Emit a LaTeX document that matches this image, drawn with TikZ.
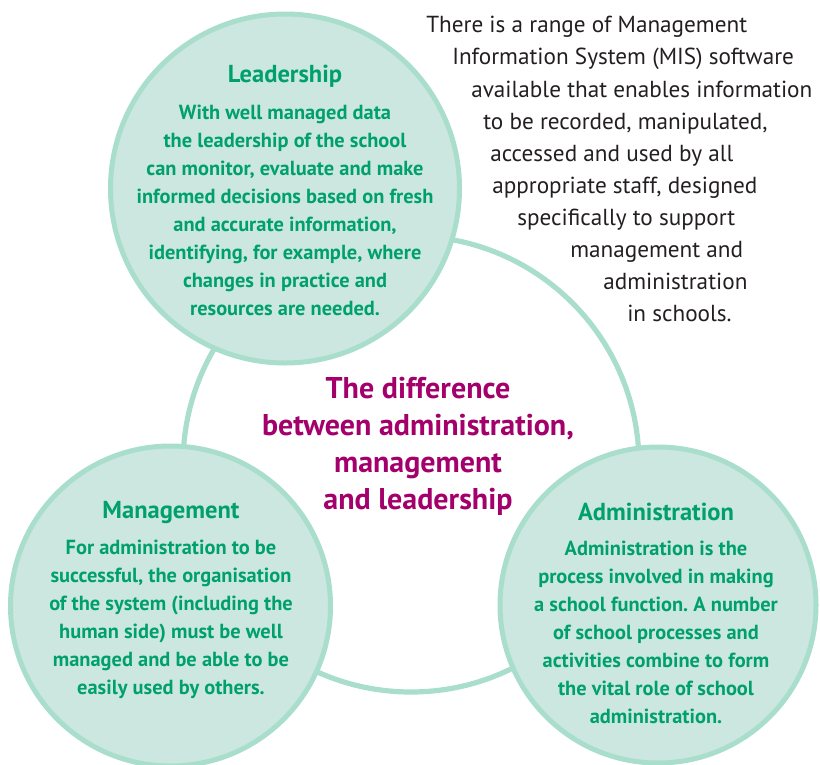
\documentclass[tikz,border=0pt]{standalone}
\usepackage{fontspec}
\setmainfont{PT Sans}
\frenchspacing
\definecolor{ringgreen}{HTML}{A9DDCC}
\definecolor{discfill}{HTML}{CCE7DF}
\definecolor{textgreen}{HTML}{00A06E}
\definecolor{plum}{HTML}{A3006B}
\definecolor{inkgrey}{HTML}{231F20}

\begin{document}
\begin{tikzpicture}[x=0.75pt,y=-0.75pt,
  disc/.style={circle,draw=ringgreen,fill=discfill,line width=3.75pt,inner sep=0pt},
  heading/.style={text=textgreen,font=\fontsize{18.4}{21}\selectfont\bfseries},
  body/.style={text=textgreen,align=center,font=\fontsize{15.3}{21}\selectfont\bfseries},
  blurb/.style={anchor=base west,inner sep=0pt,text=inkgrey,font=\fontsize{17.4}{24}\selectfont}]
   \useasboundingbox (0,0) rectangle (820,764);
   % the ring that joins the three discs
   \node (ring) at (411,464) [circle,draw=ringgreen,line width=3.9pt,minimum size=342pt] {};
   \node (lead) at (285,188.5) [disc,minimum size=261.75pt] {};
   \node (mgmt) at (170.5,606) [disc,minimum size=240pt] {};
   \node (admin) at (658,605) [disc,minimum size=237pt] {};
   % texts in the discs
   \node (leadhead) at (285,76) [heading] {Leadership};
   \node (leadbody) at (285,210) [body] {With well managed data\\the leadership of the school\\can monitor, evaluate and make\\informed decisions based on fresh\\and accurate information,\\identifying, for example, where\\changes in practice and\\resources are needed.};
   \node (mgmthead) at (171,513) [heading] {Management};
   \node (mgmtbody) at (171,619) [body] {For administration to be\\successful, the organisation\\of the system (including the\\human side) must be well\\managed and be able to be\\easily used by others.};
   \node (adminhead) at (656,512) [heading] {Administration};
   \node (adminbody) at (656,632) [body] {Administration is the\\process involved in making\\a school function. A number\\of school processes and\\activities combine to form\\the vital role of school\\administration.};
   % centre title
   \node (title) at (418,446) [align=center,text=plum,font=\fontsize{22.5}{27.75}\selectfont\bfseries] {The difference\\between administration,\\management\\and leadership};
   % MIS note, one line at a time
   \foreach \x/\y/\txt [count=\i] in {
      426/32/There is a range of Management,
      452/64.5/Information System (MIS) software,
      471/97/available that enables information,
      483/129/{to be recorded, manipulated,},
      490/161/accessed and used by all,
      492/193/{appropriate staff, designed},
      517/225/specifically to support,
      570/257/management and,
      603/289/administration,
      627/321/in schools.}
      \node (mis\i) at (\x,\y) [blurb] {\txt};
\end{tikzpicture}
\end{document}
